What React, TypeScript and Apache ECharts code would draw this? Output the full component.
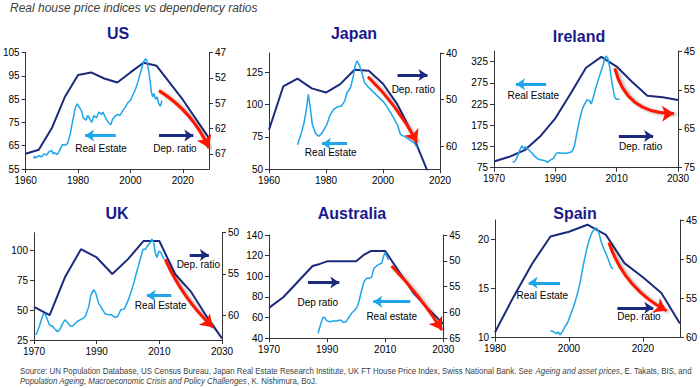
import React, { useEffect, useRef } from "react";
import * as echarts from "echarts";

const FONT = "'Liberation Sans', Arial, Helvetica, sans-serif";
const NAVY = "#1b2a7c";
const SKY = "#1ea5ea";
const RED = "#ff1500";
const AXIS = "#333333";
const TITLE_COLOR = "#1a1a8c";

const mainTitle = "Real house price indices vs dependency ratios";
const footLine1 =
  "Source: UN Population Database, US Census Bureau, Japan Real Estate Research Institute, UK FT House Price Index, Swiss National Bank. See {i|Ageing and asset prices}, E. Takats, BIS, and";
const footLine2 = "{i|Population Ageing, Macroeconomic Crisis and Policy Challenges}, K. Nishimura, BoJ.";

// ---------- axis ranges [min, max, interval] ----------
const usX = [1960, 2030, 20];
const usLeft = [55, 105, 10];
const usRight = [47, 70, 5];
const jpX = [1960, 2020, 20];
const jpLeft = [50, 140, 25];
const jpRight = [40, 65, 10];
const ieX = [1970, 2030, 20];
const ieLeft = [75, 350, 50];
const ieRight = [45, 75, 10];
const ukX = [1970, 2030, 20];
const ukLeft = [25, 115, 25];
const ukRight = [50, 63, 5];
const auX = [1970, 2030, 20];
const auLeft = [40, 140, 20];
const auRight = [45, 65, 5];
const esX = [1980, 2030, 20];
const esLeft = [10, 22, 5];
const esRight = [45, 60, 5];

// ---------- US ----------
const usDep = [[1960, 67], [1965, 66.2], [1970, 61.9], [1975, 55.7], [1980, 51.4], [1985, 50.9], [1990, 52.1], [1995, 52.9], [2000, 50.9], [2005, 49], [2010, 49.6], [2020, 56.3], [2030, 63.9]];
const usReal = [[1963, 59.5], [1963.5, 60.5], [1964, 59.8], [1965, 60.8], [1966, 60.2], [1967, 61.5], [1968, 61], [1969, 62.5], [1970, 63], [1970.5, 61.5], [1971, 62], [1972, 61.2], [1973, 63], [1974, 65.5], [1975, 65.2], [1976, 66], [1977, 70], [1978, 76], [1979, 81.5], [1979.7, 83], [1980.5, 81.5], [1981.3, 80], [1982, 77], [1983, 76], [1983.7, 78], [1984.5, 76.5], [1985.2, 75], [1986, 78], [1987, 77], [1988, 79.5], [1989, 78.5], [1989.5, 79.5], [1990.3, 77.5], [1991, 76], [1992, 74.5], [1992.5, 74], [1993.2, 76.5], [1994, 77.5], [1995, 78.5], [1996, 78], [1997, 80], [1998, 81.5], [1999, 83.5], [2000, 84.5], [2001, 87], [2002, 89.5], [2003, 93], [2004, 97], [2005, 101], [2005.8, 102.5], [2006.3, 101.5], [2007, 97], [2007.5, 93], [2008, 88], [2008.5, 86], [2009, 87.5], [2009.6, 85], [2010.2, 86], [2010.8, 83], [2011.5, 82], [2012, 84.5]];
const usRed = [[2010.9, 88.7], [2030, 64]];
const usSky = [[1994.4, 69.4], [1982.7, 69.4]];
const usNavy = [[2010.9, 69.4], [2024, 69.4]];

// ---------- Japan ----------
const jpDep = [[1960, 56.5], [1965, 47.2], [1970, 45.5], [1975, 47.6], [1980, 48.5], [1985, 46.7], [1990, 43.6], [1995, 43.8], [2000, 46.6], [2005, 51], [2010, 57], [2015, 64.5], [2020, 72]];
const jpReal = [[1970, 69], [1971, 75.5], [1972.3, 86], [1973.2, 97.5], [1973.8, 108], [1974.4, 99], [1975.2, 84.6], [1976.3, 78], [1977.4, 75.5], [1978.6, 78], [1980.3, 84.6], [1981.5, 92.4], [1982.7, 96.4], [1983.9, 98.2], [1985.4, 99], [1986.6, 103], [1987.4, 109.4], [1988.6, 113.3], [1989.5, 121], [1990.2, 130], [1990.9, 134], [1991.8, 130], [1992.7, 123.7], [1993.5, 117.2], [1994.7, 114], [1996.2, 110.7], [1998, 106.8], [2000.4, 101.6], [2002.7, 93.8], [2005, 84.6], [2006.2, 76.8], [2007.4, 75.5], [2009.2, 73], [2011, 70.3], [2012.1, 66.4]];
const jpRed = [[1994.7, 121.6], [2011.9, 70.8]];
const jpSky = [[1987.4, 69.8], [1978.6, 69.8]];
const jpNavy = [[2005.1, 122.9], [2015.6, 122.9]];

// ---------- Ireland ----------
const ieDep = [[1970, 73.4], [1975, 72.2], [1980, 70.5], [1985, 67], [1990, 62.3], [1995, 55.9], [2000, 49.3], [2005, 46.5], [2010, 49], [2015, 52.9], [2020, 56.5], [2025, 56.9], [2030, 57.6]];
const ieReal = [[1976.1, 87.6], [1976.9, 90.7], [1977.6, 101], [1978.3, 115], [1979.1, 127], [1979.6, 120.6], [1980.2, 124], [1981.2, 118], [1982.3, 110.4], [1983.4, 101], [1984.5, 94.7], [1985.6, 93], [1986.7, 91.5], [1987.4, 87.6], [1988.3, 93], [1989.4, 97], [1990.3, 108.8], [1991, 110.4], [1992.1, 108.8], [1993.2, 108.8], [1994.3, 110.4], [1995.4, 112.7], [1996.2, 124.5], [1997, 156], [1997.9, 187.4], [1998.7, 211], [1999.4, 222.8], [2000.3, 234.6], [2001.2, 233], [2001.7, 225], [2002.3, 238.5], [2003, 258], [2003.8, 277.8], [2004.7, 297.5], [2005.6, 317], [2006.1, 332.9], [2006.5, 338], [2007.1, 332.9], [2007.7, 313], [2008.5, 274], [2009.3, 242.5], [2009.9, 236.2], [2011, 236.2]];
const ieRed = [[2009.4, 309], [2028.7, 203]];
const ieSky = [[1987, 271.5], [1977.2, 271.5]];
const ieNavy = [[2010.7, 149.7], [2021.9, 149.7]];

// ---------- UK ----------
const ukDep = [[1970, 59], [1975, 60], [1980, 55.3], [1985, 52], [1990, 53], [1995, 55], [2000, 53.2], [2005, 51], [2010, 51], [2015, 55], [2020, 57.1], [2025, 60.1], [2030, 62.8]];
const ukReal = [[1970.6, 29.2], [1971.7, 36.3], [1972.5, 43.3], [1973, 47], [1973.5, 47], [1974.1, 43.3], [1974.9, 37.7], [1976, 36.3], [1976.7, 34], [1977.5, 32], [1978.3, 34], [1979.2, 39.1], [1979.9, 41.9], [1980.7, 39.7], [1981.5, 36.8], [1982.4, 36.8], [1983.4, 39.7], [1984.7, 41.9], [1985.8, 43.3], [1986.6, 46.1], [1987.5, 53.2], [1988.1, 62.2], [1989, 67.3], [1989.7, 64.5], [1990.6, 56], [1991.6, 51.8], [1992.7, 47], [1993.8, 46.1], [1994.8, 46.1], [1995.9, 43.9], [1996.7, 44.7], [1997.7, 50.4], [1998.8, 50.9], [1999.9, 57.4], [2000.9, 64.5], [2002, 74.3], [2003, 84.2], [2003.9, 92.7], [2004.8, 101.1], [2005.6, 101.1], [2006.2, 103.9], [2007.1, 106.8], [2007.6, 109.6], [2008.2, 106.8], [2008.7, 98.3], [2009.2, 94.1], [2009.9, 99.7], [2010.5, 98.3], [2011.2, 94.1], [2011.6, 92.7]];
const ukRed = [[2011.9, 92.7], [2027.1, 35.7]];
const ukSky = [[2013.8, 62.2], [2006, 62.2]];
const ukNavy = [[2019.7, 96.3], [2025.8, 96.3]];

// ---------- Australia ----------
const auDep = [[1970, 59.1], [1975, 57], [1980, 54], [1985, 51], [1987.5, 50.6], [1990, 50.1], [1995, 50.1], [2000, 50.1], [2002.5, 48.9], [2005, 48.1], [2010, 48.1], [2015, 52.3], [2020, 56.4], [2025, 59.4], [2030, 62.2]];
const auReal = [[1986.9, 44.8], [1987.7, 52.9], [1988.6, 60.3], [1989.2, 60], [1989.8, 57.1], [1990.9, 56.1], [1992.1, 56.8], [1993.2, 56.8], [1994.4, 57.7], [1995, 57.1], [1995.5, 55.2], [1996.5, 56.1], [1997.3, 59.4], [1998.4, 64.2], [1999.6, 67.4], [2000.4, 70.6], [2001.1, 77.1], [2001.9, 86.8], [2002.7, 94.8], [2003.6, 98.1], [2004.5, 98.1], [2005.3, 99], [2006.1, 107.7], [2007, 110], [2008, 111.9], [2008.8, 112.6], [2009.4, 119], [2009.9, 122.9], [2010.5, 119.7], [2011.1, 115.8]];
const auRed = [[2012.2, 110], [2029.5, 48.1]];
const auSky = [[2018.6, 75.5], [2005.9, 75.5]];
const auNavy = [[1983.4, 93.9], [1994.2, 93.9]];

// ---------- Spain ----------
const esDep = [[1980, 59.3], [1985, 54.8], [1990, 50.6], [1995, 47.1], [2000, 46.5], [2005, 45.6], [2010, 46.9], [2015, 50.5], [2020, 52.3], [2025, 54.3], [2030, 58.2]];
const esReal = [[1995, 10.7], [1995.9, 10.6], [1996.7, 10.4], [1997.1, 10.6], [1997.6, 10.3], [1998.2, 10.6], [1998.9, 11.1], [1999.6, 11.5], [2000.3, 12.2], [2000.9, 12.8], [2001.7, 13.7], [2002.3, 14.5], [2003, 15.6], [2003.5, 16.6], [2004.1, 17.8], [2004.8, 19], [2005.5, 20], [2006.2, 20.7], [2006.9, 21.1], [2007.5, 21.2], [2008.1, 20.7], [2008.7, 19.8], [2009.4, 19.1], [2010.1, 18.5], [2010.8, 17.8], [2011.4, 17.2], [2011.9, 17]];
const esRed = [[2010.8, 19.7], [2026.4, 12.75]];
const esSky = [[1997.6, 15.6], [1989.1, 15.6]];
const esNavy = [[2013.1, 13.05], [2022.8, 13.05]];

// ---------- panel layout (pixels) ----------
const panels = [
  { title: "US", tp: [118, 33], grid: [23.3, 52.7, 185.7, 116.3], x: usX, l: usLeft, r: usRight, dep: usDep, real: usReal, red: usRed, curve: 0.15, sky: usSky, navy: usNavy,
    labels: [["Real Estate", 101, 148.3], ["Dep. ratio", 175, 148.3]] },
  { title: "Japan", tp: [354, 33], grid: [269, 53, 171, 116.3], x: jpX, l: jpLeft, r: jpRight, dep: jpDep, real: jpReal, red: jpRed, curve: 0.08, sky: jpSky, navy: jpNavy,
    labels: [["Dep. ratio", 413.3, 89.3], ["Real Estate", 330.7, 152.7]] },
  { title: "Ireland", tp: [579, 36], grid: [494, 51, 184, 116.7], x: ieX, l: ieLeft, r: ieRight, dep: ieDep, real: ieReal, red: ieRed, curve: -0.4, sky: ieSky, navy: ieNavy,
    labels: [["Real Estate", 533.3, 95.7], ["Dep. ratio", 640.7, 146]] },
  { title: "UK", tp: [117, 213], grid: [34, 232.7, 188, 107.3], x: ukX, l: ukLeft, r: ukRight, dep: ukDep, real: ukReal, red: ukRed, curve: -0.1, sky: ukSky, navy: ukNavy,
    labels: [["Dep. ratio", 198.3, 264], ["Real Estate", 160.7, 305.7]] },
  { title: "Australia", tp: [352, 213], grid: [269, 235, 174.3, 103.3], x: auX, l: auLeft, r: auRight, dep: auDep, real: auReal, red: auRed, curve: 0.05, sky: auSky, navy: auNavy,
    labels: [["Dep ratio", 317.7, 302.7], ["Real estate", 391.7, 316.7]] },
  { title: "Spain", tp: [575, 213], grid: [495, 220, 185.7, 117.7], x: esX, l: esLeft, r: esRight, dep: esDep, real: esReal, red: esRed, curve: -0.2, sky: esSky, navy: esNavy,
    labels: [["Real Estate", 542.3, 295], ["Dep. ratio", 639, 316.7]] },
];

function valueAxis(range: number[], gridIndex: number, inverse: boolean, position: string) {
  const span = range[1] - range[0];
  return {
    type: "value",
    gridIndex,
    position,
    min: 0,
    max: span,
    interval: range[2],
    inverse,
    axisLine: { show: true, onZero: false, lineStyle: { color: AXIS, width: 1 } },
    axisTick: { show: true, length: 4, lineStyle: { color: AXIS } },
    splitLine: { show: false },
    axisLabel: {
      color: "#000",
      fontSize: 10,
      fontFamily: FONT,
      margin: 6,
      showMinLabel: true,
      showMaxLabel: span % range[2] === 0,
      formatter: (v: number) => String(Math.round(v + range[0])),
    },
  };
}

function buildOption() {
  const series: any[] = [];
  const graphic: any[] = [];
  panels.forEach((p, i) => {
    const toL = (pt: number[]) => [pt[0] - p.x[0], pt[1] - p.l[0]];
    const toR = (pt: number[]) => [pt[0] - p.x[0], pt[1] - p.r[0]];
    series.push({
      type: "line",
      xAxisIndex: i,
      yAxisIndex: 2 * i + 1,
      data: p.dep.map(toR),
      showSymbol: false,
      symbol: "none",
      clip: true,
      lineStyle: { color: NAVY, width: 2 },
      z: 2,
    });
    series.push({
      type: "line",
      xAxisIndex: i,
      yAxisIndex: 2 * i,
      data: p.real.map(toL),
      showSymbol: false,
      symbol: "none",
      clip: true,
      lineStyle: { color: SKY, width: 1.5 },
      z: 3,
    });
    // blue annotation arrows
    series.push({
      type: "lines",
      coordinateSystem: "cartesian2d",
      xAxisIndex: i,
      yAxisIndex: 2 * i,
      silent: true,
      symbol: ["none", "arrow"],
      symbolSize: 9,
      z: 4,
      lineStyle: { width: 3, opacity: 1, curveness: 0 },
      data: [
        { coords: [toL(p.sky[0]), toL(p.sky[1])], lineStyle: { color: SKY, width: 3, opacity: 1 } },
        { coords: [toL(p.navy[0]), toL(p.navy[1])], lineStyle: { color: NAVY, width: 3, opacity: 1 } },
      ],
    });
    // red projection arrow
    series.push({
      type: "lines",
      coordinateSystem: "cartesian2d",
      xAxisIndex: i,
      yAxisIndex: 2 * i,
      silent: true,
      symbol: ["none", "arrow"],
      symbolSize: 12,
      z: 5,
      lineStyle: {
        color: RED,
        width: 3,
        opacity: 1,
        curveness: p.curve,
        shadowColor: "rgba(0,0,0,0.35)",
        shadowBlur: 3,
        shadowOffsetX: 2,
        shadowOffsetY: 1,
      },
      data: [{ coords: [toL(p.red[0]), toL(p.red[1])] }],
    });
    graphic.push({
      type: "text",
      x: p.tp[0],
      y: p.tp[1],
      style: { text: p.title, fill: TITLE_COLOR, fontFamily: FONT, fontSize: 16, fontWeight: "bold", textAlign: "center", textVerticalAlign: "middle" },
    });
    p.labels.forEach((lb: any) => {
      graphic.push({
        type: "text",
        x: lb[1],
        y: lb[2],
        style: { text: lb[0], fill: "#000", fontFamily: FONT, fontSize: 10, textAlign: "center", textVerticalAlign: "middle" },
      });
    });
  });

  graphic.push({
    type: "text",
    x: 10,
    y: 8,
    style: { text: mainTitle, fill: "#404040", fontFamily: FONT, fontSize: 12, fontStyle: "italic", textAlign: "left", textVerticalAlign: "middle" },
  });
  const footStyle = {
    fill: "#404040",
    fontFamily: FONT,
    fontSize: 9,
    textAlign: "left",
    textVerticalAlign: "middle",
    rich: { i: { fontStyle: "italic", fill: "#404040", fontFamily: FONT, fontSize: 9 } },
  };
  graphic.push({ type: "text", x: 20, y: 371, scaleX: 0.88, style: { ...footStyle, text: footLine1 } });
  graphic.push({ type: "text", x: 20, y: 381, scaleX: 0.88, style: { ...footStyle, text: footLine2 } });

  return {
    animation: false,
    backgroundColor: "#ffffff",
    grid: panels.map((p) => ({ left: p.grid[0], top: p.grid[1], width: p.grid[2], height: p.grid[3], containLabel: false })),
    xAxis: panels.map((p, i) => valueAxis(p.x, i, false, "bottom")),
    yAxis: panels.flatMap((p, i) => [valueAxis(p.l, i, false, "left"), valueAxis(p.r, i, true, "right")]),
    series,
    graphic,
  };
}

export default function App() {
  const ref = useRef<HTMLDivElement>(null);
  useEffect(() => {
    if (!ref.current) return;
    const chart = echarts.init(ref.current, undefined, { renderer: "svg" });
    chart.setOption(buildOption() as any);
    return () => chart.dispose();
  }, []);
  return <div ref={ref} style={{ position: "fixed", left: 0, top: 0, width: 700, height: 388, background: "#fff" }} />;
}
